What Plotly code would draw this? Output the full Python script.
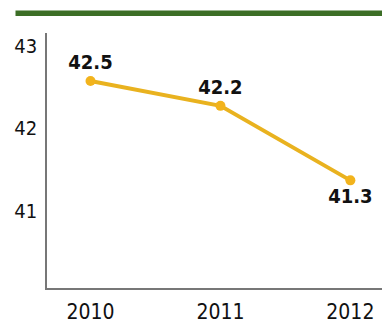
import plotly.graph_objects as go

years = [2010, 2011, 2012]
values = [42.5, 42.2, 41.3]
labels = ["42.5", "42.2", "41.3"]
label_positions = ["top center", "top center", "bottom center"]
y_ticks = [41, 42, 43]
x_ticks = ["2010", "2011", "2012"]

FONT = "DejaVu Sans Condensed, Liberation Sans Narrow, sans-serif"
# page body has an 8px margin; the figure starts at (8, 8)
OFF = 8
W, H = 390 - OFF, 323 - OFF
ml, mt, mb = 47 - OFF, 33 - OFF, 35
plot_w = W - ml
plot_h = H - mt - mb

fig = go.Figure()
fig.add_trace(go.Scatter(
    x=years, y=values,
    mode="lines+markers+text",
    line=dict(color="#E9B21F", width=4),
    marker=dict(color="#F2B31C", size=10),
    text=labels,
    textposition=label_positions,
    textfont=dict(family=FONT, size=20, color="#111111", weight="bold"),
    cliponaxis=False,
    hoverinfo="skip",
))

fig.add_shape(type="rect", xref="paper", yref="paper",
              x0=(15.5 - 47) / plot_w, x1=1.0,
              y0=(288 - 16) / plot_h,
              y1=(288 - 10.5) / plot_h,
              fillcolor="#3C6E26", line=dict(width=0), layer="above")

fig.update_layout(
    width=W, height=H,
    margin=dict(l=ml, r=0, t=mt, b=mb, pad=0),
    paper_bgcolor="white", plot_bgcolor="white",
    showlegend=False,
    font=dict(family=FONT, size=20, color="#111111"),
    xaxis=dict(
        range=[2009.665, 2012.305],
        tickvals=years, ticktext=x_ticks,
        showgrid=False, zeroline=False,
        showline=True, linecolor="#777777", linewidth=1.5,
        ticks="", ticklabelstandoff=4,
        tickfont=dict(family=FONT, size=21, color="#111111"),
    ),
    yaxis=dict(
        range=[40.0, 43.08],
        tickvals=y_ticks,
        showgrid=False, zeroline=False,
        showline=True, linecolor="#777777", linewidth=1.5,
        ticks="", ticklabelstandoff=4, ticklabelshift=6,
        tickfont=dict(family=FONT, size=20, color="#111111"),
    ),
)

fig.write_html("out.html")
